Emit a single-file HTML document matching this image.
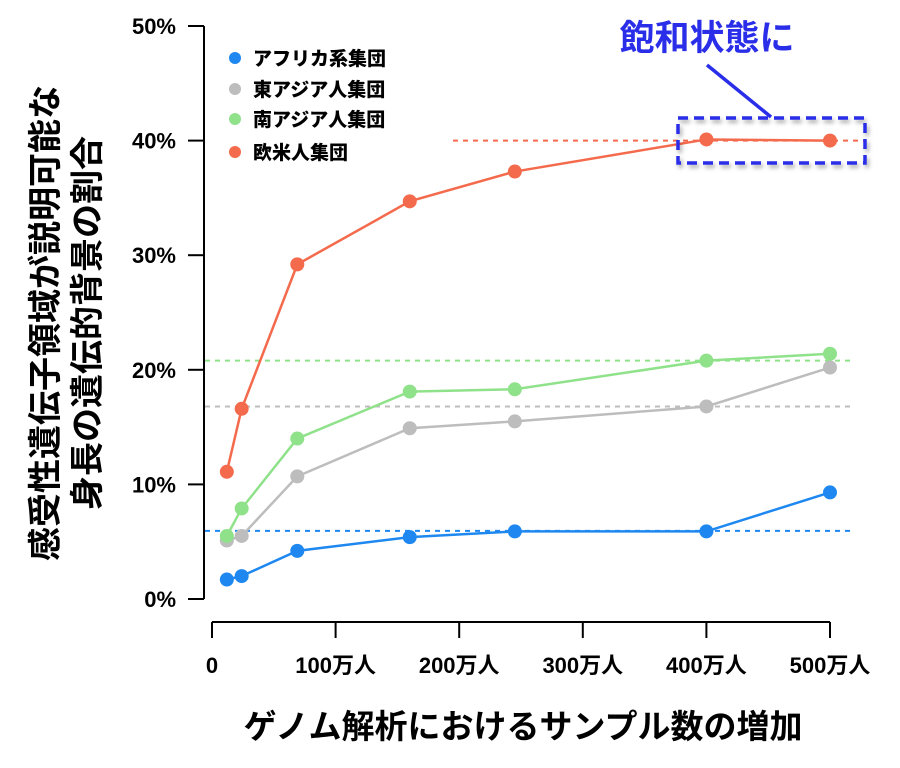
<!DOCTYPE html>
<html><head><meta charset="utf-8"><style>
body{margin:0;background:#fff;}
svg{display:block;font-family:"Liberation Sans","Noto Sans CJK JP",sans-serif;font-weight:bold;}
</style></head><body>
<svg width="900" height="768" id="c">
<defs><filter id="sh" x="-10%" y="-30%" width="130%" height="180%"><feDropShadow dx="2" dy="3" stdDeviation="2" flood-color="#000" flood-opacity="0.35"/></filter></defs>
<g id="axes"></g><g id="refs"></g><g id="series"></g>
<g font-size="19" font-weight="900">
<circle cx="235" cy="58" r="6" fill="#1e88f0"/><text x="253" y="65">アフリカ系集団</text>
<circle cx="235" cy="89" r="6" fill="#bdbdbd"/><text x="253" y="96">東アジア人集団</text>
<circle cx="235" cy="119" r="6" fill="#8fe28a"/><text x="253" y="126">南アジア人集団</text>
<circle cx="235" cy="152" r="6" fill="#f46a4c"/><text x="253" y="159">欧米人集団</text>
</g>
<g>
<rect x="678" y="118" width="187" height="45" fill="none" stroke="#2a2ee8" stroke-width="3.5" stroke-dasharray="10,6" filter="url(#sh)"/>
<line x1="707" y1="65" x2="771" y2="117" stroke="#2a2ee8" stroke-width="3.5"/>
<text x="707" y="50" font-size="35" fill="#2a2ee8" text-anchor="middle">飽和状態に</text>
</g>
<g font-size="34">
<text transform="translate(57,323) rotate(-90)" text-anchor="middle">感受性遺伝子領域が説明可能な</text>
<text transform="translate(99,323) rotate(-90)" text-anchor="middle">身長の遺伝的背景の割合</text>
</g>
<text x="523" y="738" font-size="33" text-anchor="middle">ゲノム解析におけるサンプル数の増加</text>
</svg>
<script>
const xs=[12,24,69,160,245,400,500];
const africa=[1.7,2.0,4.2,5.4,5.9,5.9,9.3];
const eastAsia=[5.1,5.5,10.7,14.9,15.5,16.8,20.2];
const southAsia=[5.5,7.9,14.0,18.1,18.3,20.8,21.4];
const europe=[11.1,16.6,29.2,34.7,37.3,40.1,40.0];
const refLevels=[5.95,16.8,20.8,40.0];
const yTicks=[0,10,20,30,40,50];
const xTicks=[0,100,200,300,400,500];
const xTickLabels=["0","100万人","200万人","300万人","400万人","500万人"];
const X=v=>212+v*1.236, Y=v=>599-v*11.46;
const NS="http://www.w3.org/2000/svg";
function mk(p,t,a){const e=document.createElementNS(NS,t);for(const k in a)e.setAttribute(k,a[k]);p.appendChild(e);return e;}
const ax=document.getElementById('axes'),rf=document.getElementById('refs'),sr=document.getElementById('series');
const ya=mk(ax,'line',{x1:204,y1:Y(50),x2:204,y2:Y(0),stroke:'#000','stroke-width':2});


yTicks.forEach(t=>{mk(ax,'line',{x1:188,y1:Y(t),x2:204,y2:Y(t),stroke:'#000','stroke-width':2});
const tx=mk(ax,'text',{x:176,y:Y(t)+8,'text-anchor':'end','font-size':22});tx.textContent=t+'%';

});
const xa=mk(ax,'line',{x1:X(0),y1:622,x2:X(500),y2:622,stroke:'#000','stroke-width':2});


xTicks.forEach((t,i)=>{mk(ax,'line',{x1:X(t),y1:622,x2:X(t),y2:638,stroke:'#000','stroke-width':2});
const tx=mk(ax,'text',{x:X(t),y:673,'text-anchor':'middle','font-size':22});tx.textContent=xTickLabels[i];

});
const cols=['#1e88f0','#bdbdbd','#8fe28a','#f46a4c'];
refLevels.forEach((v,i)=>{const l=mk(rf,'line',{x1:i==3?453:205,y1:Y(v),x2:i==3?865:855,y2:Y(v),stroke:cols[i],'stroke-width':2,'stroke-dasharray':'5,5'});

});
const names=['africa','east-asia','south-asia','europe'];
[africa,eastAsia,southAsia,europe].forEach((s,i)=>{
const g=mk(sr,'g',{});


mk(g,'polyline',{points:s.map((v,j)=>X(xs[j])+','+Y(v)).join(' '),fill:'none',stroke:cols[i],'stroke-width':2.5});
s.forEach((v,j)=>{const c=mk(g,'circle',{cx:X(xs[j]),cy:Y(v),r:7,fill:cols[i]});

});});
</script>
</body></html>
